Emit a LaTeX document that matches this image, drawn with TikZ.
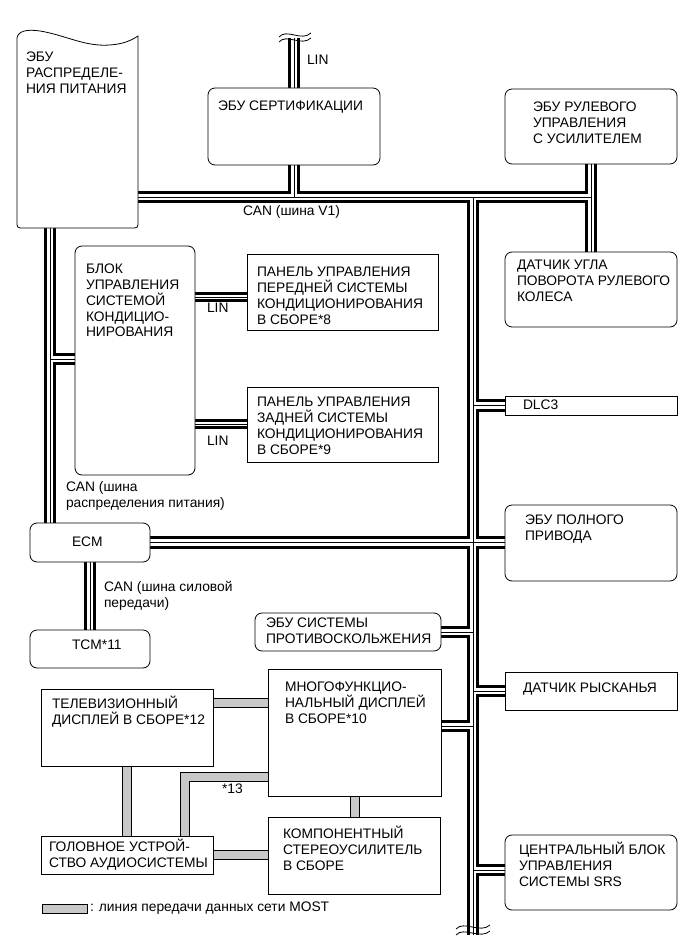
\documentclass[tikz,border=0pt]{standalone}
\usepackage{fontspec}
\setmainfont{Liberation Sans}
\usetikzlibrary{fit,backgrounds}
\definecolor{mostgray}{RGB}{200,200,200}
\newcommand\fs{\fontsize{13.8}{15.7}\selectfont}
\newcommand\tsr{\rule{0pt}{13pt}}
\begin{document}
\begin{tikzpicture}[x=1pt,y=-1pt,
  box/.style={draw=black, line width=0.8pt, fill=white, inner sep=0pt, outer sep=0pt},
  rbox/.style={box, rounded corners=7pt},
  lbl/.style={anchor=north west, inner sep=0pt, outer sep=0pt, align=left, font=\fs},
  busout/.style={line width=12.5pt, draw=black},
  busin/.style={line width=6.5pt, draw=white},
  buscore/.style={line width=0.7pt, draw=black},
  linout/.style={line width=9.5pt, draw=black},
  linin/.style={line width=4.5pt, draw=white},
  lincore/.style={line width=0.6pt, draw=black},
  mostout/.style={line width=10pt, draw=black, line join=miter},
  mostin/.style={line width=8.4pt, draw=mostgray, line join=miter},
  brk/.style={line width=0.8pt, draw=black}]
\useasboundingbox (0,0) rectangle (691,952);

% ---------- boxes ----------
\draw[box] (17,38) .. controls (18,31) and (27,29) .. (40,31)
  .. controls (65,35) and (85,47) .. (110,45)
  .. controls (124,44) and (132,40) .. (138,36)
  -- (138,221) .. controls (138,228) .. (131,228) -- (24,228)
  .. controls (17,228) .. (17,221) -- cycle;
\coordinate (pdeB) at (50,228);
\coordinate (pdeR) at (138,197);
\coordinate (trk) at (473,197);
\coordinate (trkE) at (473,935);

\node[rbox, fit={(208,88) (380,165)}] (cert) {};
\node[rbox, fit={(505,89) (677,164)}] (eps) {};
\node[rbox, fit={(505,252) (677,327)}] (sas) {};
\node[rbox, fit={(75,246) (195,475)}] (ac) {};
\node[box, fit={(247,254) (438,330)}] (fpanel) {};
\node[box, fit={(247,387) (438,462)}] (rpanel) {};
\node[box, fit={(505,396) (677,415)}] (dlc) {};
\node[rbox, fit={(30,523) (150,562)}] (ecm) {};
\node[rbox, fit={(30,630) (150,668)}] (tcm) {};
\node[rbox, fit={(505,505) (677,581)}] (fwd) {};
\node[rbox, fit={(255,613) (441,651)}] (abs) {};
\node[box, fit={(268,669) (441,796)}] (multi) {};
\node[box, fit={(505,672) (677,710)}] (yaw) {};
\node[rbox, fit={(505,835) (677,910)}] (srs) {};
\node[box, fit={(41,689) (213,766)}] (tv) {};
\node[box, fit={(41,836) (213,874)}] (head) {};
\node[box, fit={(268,817) (440,894)}] (amp) {};
\node[draw=black, line width=0.8pt, fill=mostgray, inner sep=0pt, outer sep=0pt, fit={(42,904) (87,913)}] (leg) {};

% ---------- buses ----------
\newcommand\canpaths[1]{%
  \draw[#1] (pdeB) -- (pdeB |- ecm.north);
  \draw[#1] (pdeB |- 0,359) -- (ac.west |- 0,359);
  \draw[#1] (pdeR) -- (pdeR -| eps.south);
  \draw[#1] (cert.south) -- (cert.south |- pdeR);
  \draw[#1] (eps.south) -- (sas.north);
  \draw[#1] (trk) -- (trkE);
  \draw[#1] (ecm.east) -- (ecm.east -| fwd.west);
  \draw[#1] (dlc.west) -- (dlc.west -| trk);
  \draw[#1] (abs.east) -- (abs.east -| trk);
  \draw[#1] (multi.east |- 0,726) -- (trk |- 0,726);
  \draw[#1] (yaw.west) -- (yaw.west -| trk);
  \draw[#1] (srs.west |- 0,870) -- (trk |- 0,870);
  \draw[#1] (ecm.south) -- (tcm.north);
  \draw[#1] (cert.north) -- (cert.north |- 0,38);
}
\newcommand\linpaths[1]{%
  \draw[#1] (ac.east |- 0,297) -- (fpanel.west |- 0,297);
  \draw[#1] (ac.east |- 0,424) -- (rpanel.west |- 0,424);
}
\newcommand\mostpaths[1]{%
  \draw[#1] (tv.east |- 0,703) -- (multi.west |- 0,703);
  \draw[#1] (tv.south) -- (head.north);
  \draw[#1] (head.north -| 185,0) -- (185,777) -- (multi.west |- 0,777);
  \draw[#1] (multi.south -| 355,0) -- (amp.north -| 355,0);
  \draw[#1] (head.east) -- (head.east -| amp.west);
}
\begin{pgfonlayer}{background}
  \canpaths{busout}\linpaths{linout}
  \canpaths{busin}\linpaths{linin}
  \canpaths{buscore}\linpaths{lincore}
  \mostpaths{mostout}
  \mostpaths{mostin}
\end{pgfonlayer}

% break marks
\draw[brk] (279,37) .. controls (287,28) and (301,42) .. (311,33);
\draw[brk] (279,42) .. controls (287,33) and (301,47) .. (311,38);
\draw[brk] (456,929) .. controls (464,920) and (480,934) .. (490,925);
\draw[brk] (456,935) .. controls (464,926) and (480,940) .. (490,931);

% ---------- texts ----------
\node[lbl] (pdeT) at (26,48.9) {\tsr ЭБУ\\РАСПРЕДЕЛЕ-\\НИЯ ПИТАНИЯ};
\node[lbl] (certT) at (218,97.9) {\tsr ЭБУ СЕРТИФИКАЦИИ};
\node[lbl] (linT) at (307,51.9) {\tsr LIN};
\node[lbl] (epsT) at (533,98.9) {\tsr ЭБУ РУЛЕВОГО\\УПРАВЛЕНИЯ\\С УСИЛИТЕЛЕМ};
\node[lbl] (v1T) at (243,202.9) {\tsr CAN (шина V1)};
\node[lbl] (sasT) at (517,256.9) {\tsr ДАТЧИК УГЛА\\ПОВОРОТА РУЛЕВОГО\\КОЛЕСА};
\node[lbl] (acT) at (86,260.9) {\tsr БЛОК\\УПРАВЛЕНИЯ\\СИСТЕМОЙ\\КОНДИЦИО-\\НИРОВАНИЯ};
\node[lbl] (fpT) at (257,263.9) {\tsr ПАНЕЛЬ УПРАВЛЕНИЯ\\ПЕРЕДНЕЙ СИСТЕМЫ\\КОНДИЦИОНИРОВАНИЯ\\В СБОРЕ*8};
\node[lbl] (lin1) at (207,299.9) {\tsr LIN};
\node[lbl] (rpT) at (257,393.9) {\tsr ПАНЕЛЬ УПРАВЛЕНИЯ\\ЗАДНЕЙ СИСТЕМЫ\\КОНДИЦИОНИРОВАНИЯ\\В СБОРЕ*9};
\node[lbl] (lin2) at (207,432.9) {\tsr LIN};
\node[lbl] (dlcT) at (523,396.9) {\tsr DLC3};
\node[lbl] (canPD) at (66,478.9) {\tsr CAN (шина\\распределения питания)};
\node[lbl] (ecmT) at (72,533.9) {\tsr ECM};
\node[lbl] (fwdT) at (525,511.9) {\tsr ЭБУ ПОЛНОГО\\ПРИВОДА};
\node[lbl] (canPT) at (104,578.9) {\tsr CAN (шина силовой\\передачи)};
\node[lbl] (absT) at (266,614.9) {\tsr ЭБУ СИСТЕМЫ\\ПРОТИВОСКОЛЬЖЕНИЯ};
\node[lbl] (tcmT) at (72,636.9) {\tsr TCM*11};
\node[lbl] (multiT) at (285,678.9) {\tsr МНОГОФУНКЦИО-\\НАЛЬНЫЙ ДИСПЛЕЙ\\В СБОРЕ*10};
\node[lbl] (yawT) at (523,679.9) {\tsr ДАТЧИК РЫСКАНЬЯ};
\node[lbl] (tvT) at (52,695.9) {\tsr ТЕЛЕВИЗИОННЫЙ\\ДИСПЛЕЙ В СБОРЕ*12};
\node[lbl] (s13) at (222,780.9) {\tsr *13};
\node[lbl] (ampT) at (283,825.9) {\tsr КОМПОНЕНТНЫЙ\\СТЕРЕОУСИЛИТЕЛЬ\\В СБОРЕ};
\node[lbl] (headT) at (49,838.9) {\tsr ГОЛОВНОЕ УСТРОЙ-\\СТВО АУДИОСИСТЕМЫ};
\node[lbl] (srsT) at (519,841.9) {\tsr ЦЕНТРАЛЬНЫЙ БЛОК\\УПРАВЛЕНИЯ\\СИСТЕМЫ SRS};
\node[lbl] (legT) at (90,898.9) {\tsr : линия передачи данных сети MOST};
\end{tikzpicture}
\end{document}
